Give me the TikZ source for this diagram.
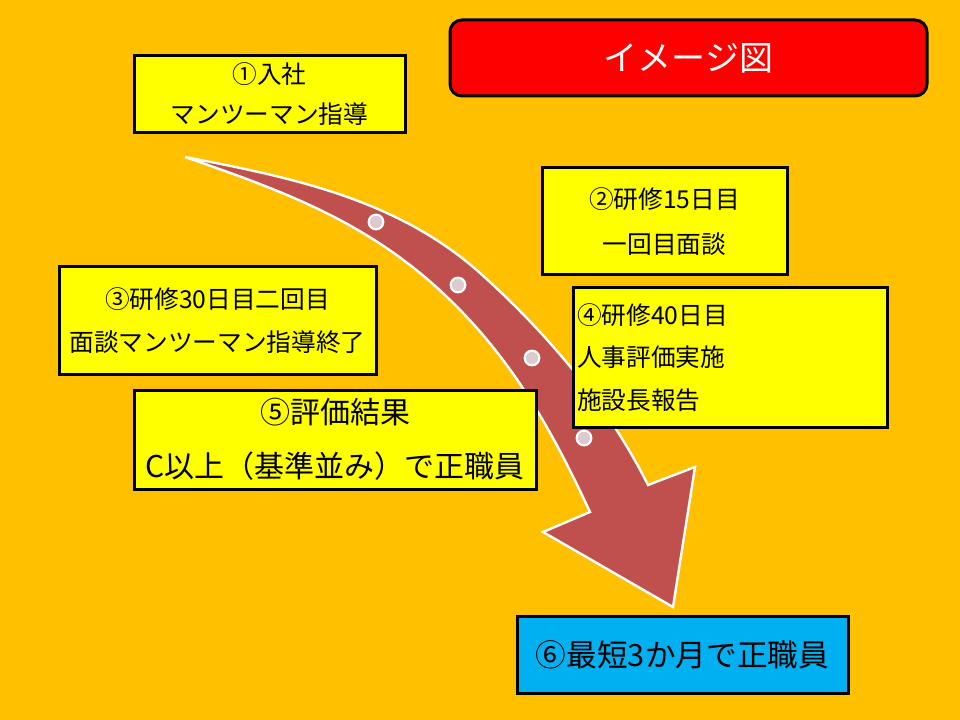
\documentclass[tikz,border=0pt]{standalone}
\usepackage{fontspec}
\setmainfont{Noto Sans CJK JP}
\usepackage{tikz}
\usetikzlibrary{positioning}
\definecolor{bgorange}{HTML}{FFC000}
\definecolor{boxyellow}{HTML}{FFFF00}
\definecolor{titlered}{HTML}{FF0000}
\definecolor{goalblue}{HTML}{00B0F0}
\definecolor{arrowred}{HTML}{C0504D}
\definecolor{dotpink}{HTML}{DCCACE}

\begin{document}
\begin{tikzpicture}[
  x=0.75pt,y=-0.75pt,
  box/.style={rectangle,draw=black,line width=2.25pt,fill=boxyellow,
              inner sep=3pt,align=center},
  ttl/.style={rectangle,rounded corners=9pt,draw=black,line width=2.25pt,
              fill=titlered,text=white,align=center,
              font=\fontsize{25.5}{30}\selectfont},
  dot/.style={circle,fill=dotpink,draw=white,line width=1.6pt,
              minimum size=11pt,inner sep=0pt},
  arrowline/.style={fill=arrowred,draw=white,line width=1.8pt,line join=miter}
]
  % background
  \fill[bgorange] (0,0) rectangle (960,720);

  % big curved arrow
  \path[arrowline] (185,157) .. controls (295,178) and (398,200) .. (480,273)
        .. controls (547,333) and (608,405) .. (648,485)
        -- (695,467) -- (673,607) -- (543,532) -- (590,512)
        .. controls (552,430) and (512,359) .. (447,297)
        .. controls (368,221) and (280,190) .. (185,157) -- cycle;

  \node[dot] (d1) at (376,222) {};
  \node[dot] (d2) at (458,285) {};
  \node[dot] (d3) at (532,358) {};
  \node[dot] (d4) at (584,438) {};

  % title
  \node[ttl,minimum width=357.75pt,minimum height=57pt] (title) at (688.5,58) {イメージ図};

  % steps
  \node[box,minimum width=203.25pt,minimum height=57.75pt,
        font=\fontsize{18.5}{30}\selectfont] (join) at (269.5,94)
        {①入社\\マンツーマン指導};
  \node[box,minimum width=183.75pt,minimum height=80.25pt,
        font=\fontsize{18.5}{33.75}\selectfont] (talk1) at (664.5,221.5)
        {②研修15日目\\一回目面談};
  \node[box,minimum width=237.75pt,minimum height=80.25pt,
        font=\fontsize{18.5}{32}\selectfont] (talk2) at (217.5,320.5)
        {③研修30日目二回目\\面談マンツーマン指導終了};
  \node[box,text width=229.5pt,minimum height=104.25pt,align=left,
        font=\fontsize{18.5}{32}\selectfont] (review) at (730,357.5)
        {④研修40日目\\人事評価実施\\施設長報告};
  \node[box,minimum width=301.5pt,minimum height=74.25pt,
        font=\fontsize{22.5}{40.5}\selectfont] (result) at (335,439.5)
        {⑤評価結果\\C以上（基準並み）で正職員};
  \node[box,fill=goalblue,minimum width=248.25pt,minimum height=57.75pt,
        font=\fontsize{23}{28}\selectfont] (goal) at (682.5,654.5)
        {⑥最短3か月で正職員};
\end{tikzpicture}
\end{document}
